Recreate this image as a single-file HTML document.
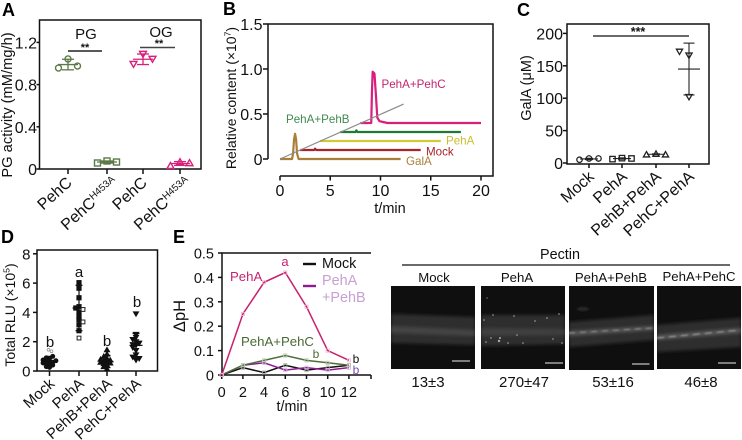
<!DOCTYPE html>
<html lang="en">
<head>
<meta charset="utf-8">
<title>Pectin degradation figure</title>
<style>
html,body{margin:0;padding:0;background:#fff;}
#fig{display:block;width:742px;height:440px;font-family:"Liberation Sans",sans-serif;filter:blur(0.3px);}
#fig text{font-family:"Liberation Sans",sans-serif;fill:#111;}
</style>
</head>
<body>
<svg id="fig" xmlns="http://www.w3.org/2000/svg" width="742" height="440" viewBox="0 0 742 440">
  <defs>
    <filter id="b1" x="-20%" y="-60%" width="140%" height="220%"><feGaussianBlur stdDeviation="1.6"/></filter>
    <filter id="b2" x="-20%" y="-60%" width="140%" height="220%"><feGaussianBlur stdDeviation="0.7"/></filter>
    <clipPath id="c1"><rect x="391" y="286" width="84" height="83"/></clipPath>
    <clipPath id="c2"><rect x="481" y="286" width="84" height="83"/></clipPath>
    <clipPath id="c3"><rect x="569" y="286" width="85" height="84"/></clipPath>
    <clipPath id="c4"><rect x="657" y="286" width="84" height="83"/></clipPath>
  </defs>

  <g>
    <text x="560" y="259" font-size="14.4" text-anchor="middle">Pectin</text>
    <line x1="402" y1="265" x2="730" y2="265" stroke="#111" stroke-width="1.2"/>
    <text x="434" y="282" font-size="13.2" text-anchor="middle">Mock</text>
    <text x="517" y="282" font-size="13.2" text-anchor="middle">PehA</text>
    <text x="611" y="282" font-size="13.2" text-anchor="middle">PehA+PehB</text>
    <text x="699" y="281" font-size="13.2" text-anchor="middle">PehA+PehC</text>

    <g clip-path="url(#c1)">
      <rect x="391" y="286" width="84" height="83" fill="#0f0f0f"/>
      <polygon points="391,314 475,317 475,345 391,343" fill="#2f2f2f" filter="url(#b1)"/>
      <polygon points="391,326 475,330 475,336 391,333" fill="#454545" filter="url(#b1)"/>
      <line x1="452" y1="361" x2="470" y2="361" stroke="#eee" stroke-width="1"/>
    </g>
    <g clip-path="url(#c2)">
      <rect x="481" y="286" width="84" height="83" fill="#0f0f0f"/>
      <polygon points="481,315 565,315 565,344 481,346" fill="#2f2f2f" filter="url(#b1)"/>
      <polygon points="481,328 565,329 565,335 481,336" fill="#404040" filter="url(#b1)"/>
      <g fill="#aaa">
        <circle cx="484" cy="320" r="0.8"/><circle cx="493" cy="315" r="0.8"/><circle cx="514" cy="316" r="0.8"/><circle cx="535" cy="321" r="0.8"/><circle cx="547" cy="318" r="0.8"/><circle cx="559" cy="314" r="0.8"/><circle cx="499" cy="341" r="1.2"/><circle cx="500" cy="338" r="1"/><circle cx="486" cy="342" r="0.8"/><circle cx="491" cy="338" r="0.8"/><circle cx="508" cy="343" r="0.8"/><circle cx="517" cy="335" r="0.8"/><circle cx="553" cy="339" r="0.8"/><circle cx="562" cy="343" r="0.8"/><circle cx="523" cy="343" r="0.8"/><circle cx="487" cy="298" r="0.6"/>
      </g>
      <line x1="545" y1="363" x2="563" y2="363" stroke="#eee" stroke-width="1"/>
    </g>
    <g clip-path="url(#c3)">
      <rect x="569" y="286" width="85" height="84" fill="#0f0f0f"/>
      <ellipse cx="583" cy="309" rx="6" ry="2" fill="#262626" filter="url(#b2)"/>
      <polygon points="569,322 654,315 654,340 569,347" fill="#2f2f2f" filter="url(#b1)"/>
      <polygon points="569,331 654,326 654,330 569,336" fill="#585858" filter="url(#b1)"/>
      <polyline points="569,333 654,328" fill="none" stroke="#999" stroke-width="1" stroke-dasharray="6 5" filter="url(#b2)"/>
      <line x1="632" y1="364" x2="649.500" y2="364" stroke="#eee" stroke-width="1"/>
    </g>
    <g clip-path="url(#c4)">
      <rect x="657" y="286" width="84" height="83" fill="#0f0f0f"/>
      <polygon points="657,325 741,318 741,347 657,352" fill="#2f2f2f" filter="url(#b1)"/>
      <polygon points="657,335 741,328 741,333 657,340" fill="#585858" filter="url(#b1)"/>
      <polyline points="657,338 741,330" fill="none" stroke="#aaa" stroke-width="1" stroke-dasharray="7 5" filter="url(#b2)"/>
      <line x1="718" y1="363" x2="736" y2="363" stroke="#eee" stroke-width="1"/>
    </g>
    <text x="428" y="387" font-size="15" text-anchor="middle">13±3</text>
    <text x="524" y="387" font-size="15" text-anchor="middle">270±47</text>
    <text x="613" y="387" font-size="15" text-anchor="middle">53±16</text>
    <text x="701" y="387" font-size="15" text-anchor="middle">46±8</text>
  </g>
</svg>

<script>
/* Panel A data */
var aTicks = [0, 0.4, 0.8, 1.2];
var aTickLabels = ['0', '0.4', '0.8', '1.2'];
var aCategories = ['PehC', 'PehC', 'PehC', 'PehC'];
var aSuperscripts = ['', 'H453A', '', 'H453A'];
var aPgWt = [1.043, 0.957, 0.976];
var aPgMut = [0.076, 0.057, 0.066];
var aOgWt = [1.09, 0.995, 1.043];
var aOgMut = [0.066, 0.03, 0.057];
var aMeans = [0.99, 0.066, 1.04, 0.052];
var aErrors = [0.05, 0.01, 0.05, 0.018];

/* Panel B data */
var bYTicks = [0, 0.5, 1.0, 1.5];
var bYTickLabels = ['0', '0.5', '1.0', '1.5'];
var bXTicks = [0, 5, 10, 15, 20];
var bGalaT = [0, 1.2, 1.3, 1.4, 1.5, 1.6, 1.7, 1.85, 12];
var bGalaV = [0, 0, 0.06, 0.22, 0.28, 0.22, 0.06, 0, 0];
var bMockT = [0, 1.4, 1.5, 1.6, 12];
var bMockV = [0, 0, 0.015, 0, 0];
var bPehaT = [0, 12];
var bPehaV = [0, 0];
var bPehbT = [0, 1.5, 1.6, 1.7, 12];
var bPehbV = [0, 0, 0.018, 0, 0];
var bPehcT = [0, 1.08, 1.15, 1.22, 1.4, 1.55, 1.68, 1.9, 2.7, 12];
var bPehcV = [0, 0, 0.35, 0.57, 0.55, 0.3, 0.06, 0.02, 0, 0];
var bStartMin = [0, 2, 4, 6, 8];
var bBaseline = [0, 0.1, 0.2, 0.3, 0.4];
var bGradientT = [0, 12.3];
var bGradientV = [0, 0.61];

/* Panel C data */
var cTicks = [0, 50, 100, 150, 200];
var cCategories = ['Mock', 'PehA', 'PehB+PehA', 'PehC+PehA'];
var cMock = [7, 5, 7];
var cPeha = [7.5, 6, 7];
var cPehb = [14, 13, 13];
var cPehc = [166, 172, 102];
var cMeans = [6.3, 6.9, 13.5, 145];
var cErrors = [1, 1, 0.6, 40];

/* Panel D data */
var dTicks = [0, 2, 4, 6, 8];
var dCategories = ['Mock', 'PehA', 'PehB+PehA', 'PehC+PehA'];
var dMock = [0.65, 0.7, 0.6, 0.75, 0.5, 0.85, 0.45, 0.9, 0.3, 0.55, 0.4, 1.0, 0.25, 0.7];
var dMockOpen = [1.45, 1.35];
var dPeha = [6.03, 5.65, 5.0, 4.39, 4.3, 4.0, 3.7, 3.5, 3.15, 2.75];
var dPehaOpen = [4.2, 3.35, 2.25];
var dPehb = [0.65, 0.7, 0.55, 0.85, 0.75, 0.5, 1.0, 0.4, 1.15, 1.45, 0.3, 0.6, 0.15, 0.8];
var dPehc = [1.75, 1.8, 1.6, 2.0, 2.15, 1.4, 2.5, 1.1, 0.95, 0.75, 0.85, 1.9, 2.3, 3.9];
var dMeans = [0.65, 4.3, 0.65, 1.75];
var dErrors = [0.35, 1.55, 0.42, 0.82];

/* Panel E data */
var eTime = [0, 2, 4, 6, 8, 10, 12];
var eYTicks = [0, 0.1, 0.2, 0.3, 0.4, 0.5];
var eYTickLabels = ['0', '0.1', '0.2', '0.3', '0.4', '0.5'];
var eXTicks = [0, 2, 4, 6, 8, 10, 12];
var ePeha = [0, 0.25, 0.38, 0.42, 0.28, 0.10, 0.06];
var ePehc = [0, 0.04, 0.06, 0.08, 0.06, 0.05, 0.04];
var ePehb = [0, 0.04, 0.05, 0.02, 0.03, 0.02, 0.03];
var eMock = [0, 0.03, 0.01, 0.04, 0.02, 0.03, 0.04];

var svg = document.getElementById('fig');
var NS = 'http://www.w3.org/2000/svg';

function mk(parent, tag, name, attrs, txt) {
  var el = document.createElementNS(NS, tag);
  
  
  for (var k in attrs) { el.setAttribute(k, attrs[k]); }
  if (txt !== undefined) { el.textContent = txt; }
  parent.appendChild(el);
  return el;
}
function group(name) { return mk(svg, 'g', name, {}); }
function line(p, name, x1, y1, x2, y2, color, w) {
  return mk(p, 'line', name, {x1: x1, y1: y1, x2: x2, y2: y2, stroke: color, 'stroke-width': w});
}
function text(p, name, x, y, size, str, anchor, color, extra) {
  var a = {x: x, y: y, 'font-size': size, 'text-anchor': anchor || 'start'};
  if (color) { a.style = 'fill:' + color; }
  for (var k in (extra || {})) { a[k] = extra[k]; }
  return mk(p, 'text', name, a, str);
}
function vTitle(p, name, x, y, size, parts) {
  var t = mk(p, 'text', name, {transform: 'translate(' + x + ',' + y + ') rotate(-90)', 'font-size': size, 'text-anchor': 'middle'});
  parts.forEach(function (s) {
    var span = mk(t, 'tspan', name + '-part', {}, s[0]);
    if (s[1]) {
      span.setAttribute('font-size', size * 0.62);
      span.setAttribute('dy', -size * 0.38);
    } else if (s[2]) {
      span.setAttribute('dy', size * 0.38);
    }
  });
  return t;
}
function slanted(p, name, x, y, size, str, sup) {
  var t = mk(p, 'text', name, {transform: 'translate(' + x + ',' + y + ') rotate(-42)', 'font-size': size, 'text-anchor': 'end'}, str);
  if (sup) {
    var s = mk(t, 'tspan', name + '-superscript', {'font-size': size * 0.62, dy: -size * 0.34}, sup);
    s.setAttribute('data-kind', 'sup');
  }
  return t;
}
function marker(p, name, shape, x, y, r, color, fill, sw) {
  var a = {stroke: color, fill: fill || 'none', 'stroke-width': sw || 1.2};
  if (shape === 'circle') {
    a.cx = x; a.cy = y; a.r = r;
    return mk(p, 'circle', name, a);
  }
  if (shape === 'square') {
    a.x = x - r; a.y = y - r; a.width = 2 * r; a.height = 2 * r;
    return mk(p, 'rect', name, a);
  }
  var h = r * 1.1;
  if (shape === 'up') {
    a.points = (x - r * 1.15) + ',' + (y + h * 0.8) + ' ' + (x + r * 1.15) + ',' + (y + h * 0.8) + ' ' + x + ',' + (y - h);
  } else {
    a.points = (x - r * 1.15) + ',' + (y - h * 0.8) + ' ' + (x + r * 1.15) + ',' + (y - h * 0.8) + ' ' + x + ',' + (y + h);
  }
  return mk(p, 'polygon', name, a);
}
/* places points in array order: centre, then left, then right when a slot is taken */
function swarm(vals, yFn, step, minDy) {
  var placed = [];
  return vals.map(function (v) {
    var y = yFn(v), order = [0, -1, 1, -2, 2, -3, 3, -4, 4], off = 0;
    for (var i = 0; i < order.length; i++) {
      var ok = placed.every(function (q) {
        return !(q.o === order[i] && Math.abs(q.y - y) < minDy);
      });
      if (ok) { off = order[i]; break; }
    }
    placed.push({o: off, y: y});
    return {dx: off * step, y: y};
  });
}
function errorBar(p, name, x, mean, err, yFn, meanHalf, capHalf, color, w) {
  var yt = yFn(mean + err), yb = yFn(mean - err), ym = yFn(mean);
  line(p, name + '-stem', x, yt, x, yb, color, w);
  line(p, name + '-cap-top', x - capHalf, yt, x + capHalf, yt, color, w);
  line(p, name + '-cap-bottom', x - capHalf, yb, x + capHalf, yb, color, w);
  line(p, name + '-mean', x - meanHalf, ym, x + meanHalf, ym, color, w);
}
function frame(p, name, x, y, w, h, sw) {
  return mk(p, 'rect', name, {x: x, y: y, width: w, height: h, fill: 'none', stroke: '#111', 'stroke-width': sw || 1.5});
}

/* ---------- Panel A ---------- */
(function () {
  var g = group('panel-a');
  text(g, 'panel-a-letter', 2, 16, 18, 'A', 'start', '#000', {'font-weight': 'bold'});
  var yA = function (v) { return 169 - v * 105.5; };
  var xA = function (i) { return [68, 107, 143, 180][i]; };
  frame(g, 'panel-a-frame', 39.5, 20, 161.5, 149);
  aTicks.forEach(function (t, i) {
    line(g, 'y-tick', 36.5, yA(t), 39.5, yA(t), '#111', 1.5);
    text(g, 'y-tick-label', 37, yA(t) + 6, 16, aTickLabels[i], 'end');
  });
  aCategories.forEach(function (c, i) {
    line(g, 'x-tick', xA(i), 169, xA(i), 174, '#111', 1.5);
    slanted(g, 'x-label-' + c.toLowerCase(), xA(i) + 5 + (aSuperscripts[i] ? 7 : 0), 184, 16, c, aSuperscripts[i]);
  });
  vTitle(g, 'y-axis-title', 12, 105, 14.7, [['PG activity (mM/mg/h)']]);
  text(g, 'pg-label', 86, 39, 15, 'PG', 'middle');
  text(g, 'og-label', 161, 37, 15, 'OG', 'middle');
  line(g, 'pg-significance-line', 68, 51, 102, 51, '#222', 1.4);
  line(g, 'og-significance-line', 140, 47.500, 175, 47.500, '#444', 1.4);
  text(g, 'pg-significance-stars', 85, 51, 11, '**', 'middle', '#111', {'font-weight': 'bold'});
  text(g, 'og-significance-stars', 159, 47, 11, '**', 'middle', '#111', {'font-weight': 'bold'});
  var sets = [aPgWt, aPgMut, aOgWt, aOgMut];
  var shapes = ['circle', 'square', 'down', 'up'];
  var colors = ['#5c7a48', '#5c7a48', '#d81f7c', '#d81f7c'];
  sets.forEach(function (vals, i) {
    errorBar(g, 'group-' + i + '-error', xA(i), aMeans[i], aErrors[i], yA, 10, 6, colors[i], 1.3);
    var pos = swarm(vals, yA, 9.5, 30);
    pos.forEach(function (q) {
      marker(g, 'group-' + i + '-point', shapes[i], xA(i) + q.dx, q.y, 3, colors[i], 'none', 1.4);
    });
  });
})();

/* ---------- Panel B ---------- */
(function () {
  var g = group('panel-b');
  text(g, 'panel-b-letter', 223, 15, 18, 'B', 'start', '#000', {'font-weight': 'bold'});
  var xB = function (t) { return 280 + t * 10.05; };
  var yB = function (v) { return 159 - v * 90; };
  mk(g, 'path', 'panel-b-frame', {d: 'M268 159V24H493V176H280', fill: 'none', stroke: '#111', 'stroke-width': 1.5});
  bYTicks.forEach(function (t, i) {
    line(g, 'y-tick', 263, yB(t), 268, yB(t), '#111', 1.5);
    text(g, 'y-tick-label', 262.500, yB(t) + 6, 16, bYTickLabels[i], 'end');
  });
  bXTicks.forEach(function (t) {
    line(g, 'x-tick', xB(t), 176, xB(t), 180.5, '#111', 1.5);
    text(g, 'x-tick-label', xB(t), 196, 16, String(t), 'middle');
  });
  text(g, 'x-axis-title', 390, 213, 14.5, 't/min', 'middle');
  vTitle(g, 'y-axis-title', 236, 98, 14, [['Relative content (×10'], ['7', true], [')', false, true]]);
  var names = ['gala', 'mock', 'peha', 'pehb', 'pehc'];
  var tSets = [bGalaT, bMockT, bPehaT, bPehbT, bPehcT];
  var vSets = [bGalaV, bMockV, bPehaV, bPehbV, bPehcV];
  var colors = ['#a97f3a', '#a8242c', '#d3cb35', '#1f7a30', '#d81f7c'];
  [4, 3, 2, 1, 0].forEach(function (i) {
    var pts = tSets[i].map(function (t, k) {
      return xB(t + bStartMin[i]) + ',' + yB(vSets[i][k] + bBaseline[i]);
    }).join(' ');
    mk(g, 'polyline', 'trace-' + names[i], {points: pts, fill: 'none', stroke: colors[i], 'stroke-width': 2.2, 'stroke-linejoin': 'round'});
  });
  var gp = bGradientT.map(function (t, k) { return xB(t) + ',' + yB(bGradientV[k]); }).join(' ');
  mk(g, 'polyline', 'gradient-line', {points: gp, fill: 'none', stroke: '#8c8c8c', 'stroke-width': 1.2});
  text(g, 'pehc-trace-label', 381.500, 88, 11.6, 'PehA+PehC', 'start', '#c4246f');
  text(g, 'pehb-trace-label', 286, 123, 11.6, 'PehA+PehB', 'start', '#3f8a4e');
  text(g, 'peha-trace-label', 446, 144.5, 11.6, 'PehA', 'start', '#c9bf2c');
  text(g, 'mock-trace-label', 426, 155.5, 11.6, 'Mock', 'start', '#a8242c');
  text(g, 'gala-trace-label', 406, 165, 11.6, 'GalA', 'start', '#a97f3a');
})();

/* ---------- Panel C ---------- */
(function () {
  var g = group('panel-c');
  text(g, 'panel-c-letter', 517, 16, 18, 'C', 'start', '#000', {'font-weight': 'bold'});
  var yC = function (v) { return 163 - v * 0.648; };
  var xC = function (i) { return [589, 622, 656, 689][i]; };
  frame(g, 'panel-c-frame', 567, 24, 142, 140);
  cTicks.forEach(function (t) {
    line(g, 'y-tick', 563, yC(t), 567, yC(t), '#111', 1.5);
    text(g, 'y-tick-label', 563, yC(t) + 6, 16, String(t), 'end');
  });
  cCategories.forEach(function (c, i) {
    line(g, 'x-tick', xC(i), 164, xC(i), 168, '#111', 1.5);
    slanted(g, 'x-label-' + c.toLowerCase().replace('+', '-'), xC(i) + 6, 178, 16, c);
  });
  vTitle(g, 'y-axis-title', 531, 88, 14.5, [['GalA (μM)']]);
  line(g, 'significance-line', 593, 36, 689, 36, '#111', 1.3);
  text(g, 'significance-stars', 638, 36, 12.5, '***', 'middle', '#111', {'font-weight': 'bold'});
  var sets = [cMock, cPeha, cPehb, cPehc];
  var shapes = ['circle', 'square', 'up', 'down'];
  sets.forEach(function (vals, i) {
    var big = i === 3;
    errorBar(g, 'group-' + i + '-error', xC(i), cMeans[i], cErrors[i], yC, big ? 11 : 9, big ? 5.5 : 4, '#222', 1.1);
    var pos = swarm(vals, yC, 9.5, big ? 12 : 30);
    pos.forEach(function (q) {
      marker(g, 'group-' + i + '-point', shapes[i], xC(i) + q.dx, q.y, 2.700, '#222', 'none', 1.3);
    });
  });
})();

/* ---------- Panel D ---------- */
(function () {
  var g = group('panel-d');
  text(g, 'panel-d-letter', 1, 243, 18, 'D', 'start', '#000', {'font-weight': 'bold'});
  var yD = function (v) { return 371 - v * 14.65; };
  var xD = function (i) { return [49.5, 79, 107, 136][i]; };
  frame(g, 'panel-d-frame', 37, 250, 120.5, 121);
  dTicks.forEach(function (t) {
    line(g, 'y-tick', 33, yD(t), 37, yD(t), '#111', 1.5);
    text(g, 'y-tick-label', 30.500, yD(t) + 5.5, 15, String(t), 'end');
  });
  dCategories.forEach(function (c, i) {
    line(g, 'x-tick', xD(i), 371, xD(i), 376, '#111', 1.5);
    slanted(g, 'x-label-' + c.toLowerCase().replace('+', '-'), xD(i) + 6, 385, 15, c);
  });
  vTitle(g, 'y-axis-title', 15, 315, 14, [['Total RLU (×10'], ['5', true], [')', false, true]]);
  text(g, 'mock-letter', 50, 347, 15, 'b', 'middle');
  text(g, 'peha-letter', 79, 277, 15, 'a', 'middle');
  text(g, 'pehb-letter', 107, 346, 15, 'b', 'middle');
  text(g, 'pehc-letter', 137, 307, 15, 'b', 'middle');
  var sets = [dMock, dPeha, dPehb, dPehc];
  var shapes = ['circle', 'square', 'up', 'down'];
  var sizes = [2.1, 2.2, 2.4, 2.4];
  sets.forEach(function (vals, i) {
    errorBar(g, 'group-' + i + '-error', xD(i), dMeans[i], dErrors[i], yD, 6.5, 3.5, '#111', 1.2);
    var pos = swarm(vals, yD, 3.2, 2.4);
    pos.forEach(function (q) {
      marker(g, 'group-' + i + '-point', shapes[i], xD(i) + q.dx, q.y, sizes[i], '#111', '#111', 0.8);
    });
  });
  dMockOpen.forEach(function (v, k) {
    marker(g, 'mock-outlier-point', 'circle', xD(0) + (k ? 2 : -1), yD(v), 1.4, '#888', 'none', 0.7);
  });
  dPehaOpen.forEach(function (v, k) {
    marker(g, 'peha-open-point', 'square', xD(1) + (k < 2 ? 4 : 0), yD(v), 1.9, '#222', '#fff', 1);
  });
})();

/* ---------- Panel E ---------- */
(function () {
  var g = group('panel-e');
  text(g, 'panel-e-letter', 173, 243, 18, 'E', 'start', '#000', {'font-weight': 'bold'});
  var xE = function (t) { return 221.7 + t * 10.6; };
  var yE = function (v) { return 375 - v * 244; };
  mk(g, 'path', 'panel-e-frame', {d: 'M222 375V253H371M222 375H371', fill: 'none', stroke: '#111', 'stroke-width': 1.5});
  eYTicks.forEach(function (t, i) {
    line(g, 'y-tick', 218, yE(t), 222, yE(t), '#111', 1.5);
    text(g, 'y-tick-label', 214, yE(t) + 5.5, 14.5, eYTickLabels[i], 'end');
  });
  eXTicks.forEach(function (t) {
    line(g, 'x-tick', xE(t), 375, xE(t), 379, '#111', 1.5);
    text(g, 'x-tick-label', xE(t), 397, 14.5, String(t), 'middle');
  });
  line(g, 'x-tick-end', 371, 375, 371, 379, '#111', 1.5);
  text(g, 'x-axis-title', 292, 411, 14.3, 't/min', 'middle');
  vTitle(g, 'y-axis-title', 185, 316, 16.5, [['ΔpH']]);
  var names = ['mock', 'pehb', 'pehc', 'peha'];
  var sets = [eMock, ePehb, ePehc, ePeha];
  var colors = ['#111', '#8f1d92', '#4f6e3a', '#c9206f'];
  var marks = ['#aaa', '#d9b5dd', '#b9c9ac', '#eeb5d2'];
  sets.forEach(function (vals, i) {
    var pts = vals.map(function (v, k) { return xE(eTime[k]) + ',' + yE(v); }).join(' ');
    mk(g, 'polyline', 'line-' + names[i], {points: pts, fill: 'none', stroke: colors[i], 'stroke-width': 1.5});
  });
  sets.forEach(function (vals, i) {
    vals.forEach(function (v, k) {
      marker(g, 'point-' + names[i], 'square', xE(eTime[k]), yE(v), 1.6, marks[i], 'none', 0.8);
    });
  });
  text(g, 'peha-line-label', 230, 281, 13.2, 'PehA', 'start', '#c4246f');
  text(g, 'peha-letter', 285, 266, 13, 'a', 'middle', '#c4246f');
  text(g, 'pehc-line-label', 241, 346, 13.2, 'PehA+PehC', 'start', '#4a6a36');
  text(g, 'pehc-letter', 316, 358, 12, 'b', 'middle', '#4a6a36');
  text(g, 'mock-letter', 356, 363, 12, 'b', 'middle', '#111');
  text(g, 'pehb-letter', 356, 374, 12, 'b', 'middle', '#7a4ba8');
  line(g, 'legend-mock-swatch', 303, 264, 316, 264, '#111', 2.4);
  text(g, 'legend-mock-label', 322, 268, 14.4, 'Mock', 'start', '#111');
  line(g, 'legend-pehb-swatch', 303, 286, 316, 286, '#8f1d92', 2.4);
  text(g, 'legend-peha-label', 322, 285, 14.4, 'PehA', 'start', '#c9a0d2');
  text(g, 'legend-pehb-label', 322, 302, 14.4, '+PehB', 'start', '#c9a0d2');
})();
</script>
</body>
</html>
